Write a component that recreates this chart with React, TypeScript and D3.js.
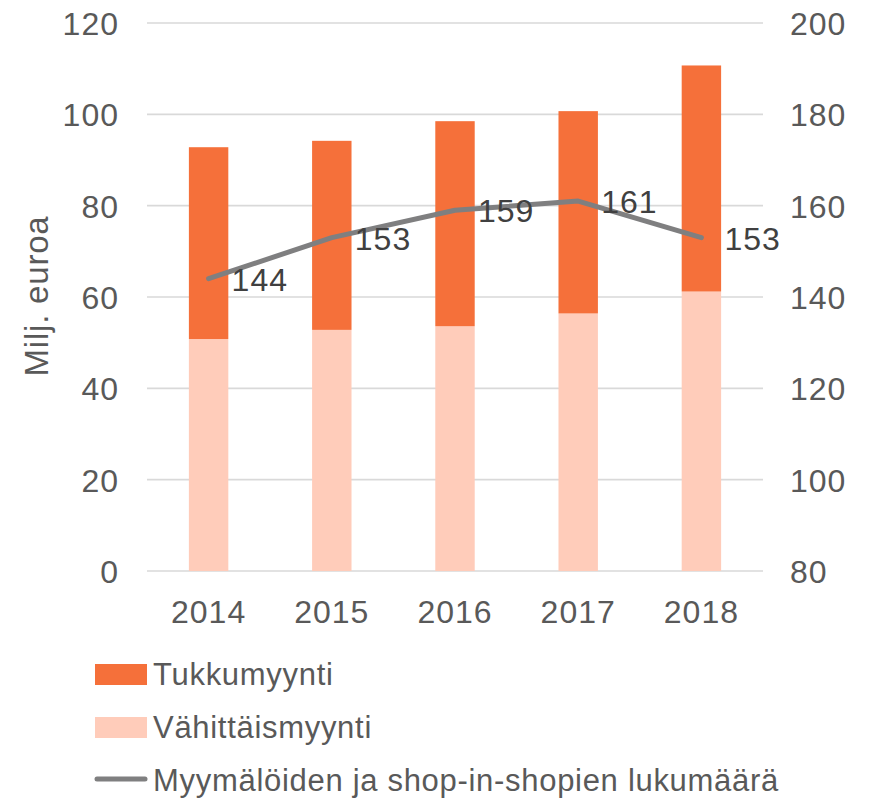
import React from "react";
import * as d3 from "d3";

const years = ["2014", "2015", "2016", "2017", "2018"];
const retail = [50.8, 52.8, 53.6, 56.4, 61.2]; // Vähittäismyynti
const wholesale = [42.0, 41.4, 44.9, 44.3, 49.5]; // Tukkumyynti
const stores = [144, 153, 159, 161, 153];
const leftTicks = [0, 20, 40, 60, 80, 100, 120];
const rightTicks = [80, 100, 120, 140, 160, 180, 200];

const W = 871;
const H = 798;
const FONT = "'Liberation Sans', Arial, sans-serif";
const TEXT = "#595959";
const DARK = "#F5703A";
const LIGHT = "#FFCCBA";
const LINE = "#7F7F80";

export default function App() {
  const x = d3.scaleBand<string>().domain(years).range([147, 763]).paddingInner(0.68).paddingOuter(0.34);
  const yL = d3.scaleLinear().domain([0, 120]).range([571, 23]);
  const yR = d3.scaleLinear().domain([80, 200]).range([571, 23]);
  const cx = (y: string) => (x(y) as number) + x.bandwidth() / 2;
  const line = d3
    .line<number>()
    .x((_, i) => cx(years[i]))
    .y((d) => yR(d));

  return (
    <svg width={W} height={H} style={{ position: "absolute", left: 0, top: 0, background: "#fff" }} fontFamily={FONT}>
      {leftTicks.map((t) => (
        <line key={t} x1={147} x2={763} y1={yL(t)} y2={yL(t)} stroke="#D9D9D9" strokeWidth={1.6} />
      ))}
      {years.map((y, i) => (
        <g key={y}>
          <rect x={x(y)} width={x.bandwidth()} y={yL(retail[i])} height={yL(0) - yL(retail[i])} fill={LIGHT} />
          <rect
            x={x(y)}
            width={x.bandwidth()}
            y={yL(retail[i] + wholesale[i])}
            height={yL(retail[i]) - yL(retail[i] + wholesale[i])}
            fill={DARK}
          />
        </g>
      ))}
      <path d={line(stores) || ""} fill="none" stroke={LINE} strokeWidth={5} strokeLinecap="round" strokeLinejoin="round" />
      {stores.map((s, i) => (
        <text key={i} x={cx(years[i]) + 23} y={yR(s) + 12} fontSize={32} letterSpacing={1} fill="#404040">
          {s}
        </text>
      ))}
      {leftTicks.map((t) => (
        <text key={t} x={119} y={yL(t) + 12} textAnchor="end" fontSize={32} letterSpacing={1} fill={TEXT}>
          {t}
        </text>
      ))}
      {rightTicks.map((t) => (
        <text key={t} x={790} y={yR(t) + 12} fontSize={32} letterSpacing={1} fill={TEXT}>
          {t}
        </text>
      ))}
      {years.map((y) => (
        <text key={y} x={cx(y)} y={623} textAnchor="middle" fontSize={32} letterSpacing={1} fill={TEXT}>
          {y}
        </text>
      ))}
      <text transform="translate(48,296) rotate(-90)" textAnchor="middle" fontSize={33} letterSpacing={0.8} fill={TEXT}>
        Milj. euroa
      </text>
      <rect x={95} y={664} width={52} height={21} fill={DARK} />
      <text x={153} y={685} fontSize={31} letterSpacing={0.7} fill={TEXT}>Tukkumyynti</text>
      <rect x={95} y={717} width={52} height={21} fill={LIGHT} />
      <text x={153} y={738} fontSize={31} letterSpacing={0.7} fill={TEXT}>Vähittäismyynti</text>
      <line x1={97} x2={145} y1={779} y2={779} stroke={LINE} strokeWidth={5} strokeLinecap="round" />
      <text x={153} y={791} fontSize={31} letterSpacing={0.7} fill={TEXT}>Myymälöiden ja shop-in-shopien lukumäärä</text>
    </svg>
  );
}
